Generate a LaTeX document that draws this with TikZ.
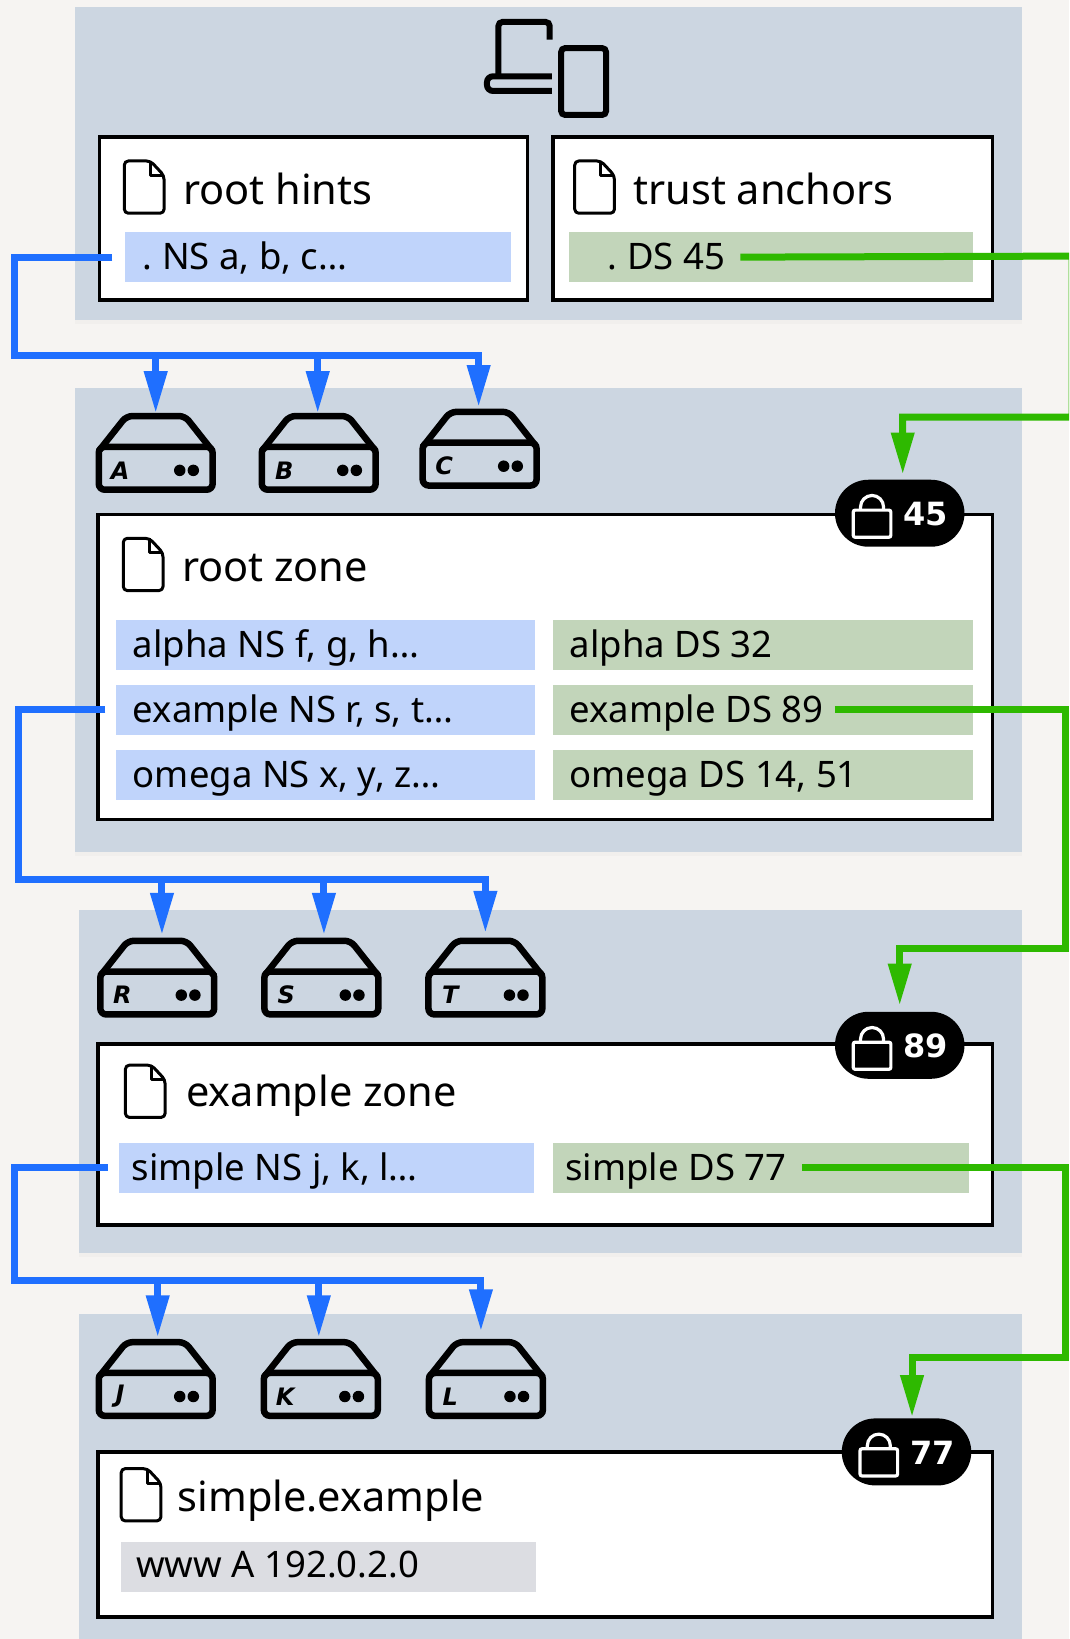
\documentclass[tikz,border=0pt]{standalone}
\usepackage{fontspec}
\usepackage{xcolor}
\usepackage{tikz}
\usetikzlibrary{positioning, calc, arrows.meta, shapes.misc, shadows}
\setmainfont{Noto Sans}
\newfontfamily\heavyfont{DejaVu Sans}

\definecolor{pagebg}{HTML}{F6F4F2}
\definecolor{panelbg}{HTML}{CCD6E1}
\definecolor{nsfill}{HTML}{C0D4FB}
\definecolor{dsfill}{HTML}{C2D5BA}
\definecolor{afill}{HTML}{DCDDE2}
\definecolor{nsline}{HTML}{1F6FFF}
\definecolor{dsline}{HTML}{2EB900}

\tikzset{
    panel/.style={fill=panelbg, drop shadow={shadow xshift=0pt, shadow yshift=-4pt, fill=black, opacity=.02}},
    zonebox/.style={draw=black, fill=white, line width=3.5pt},
    title/.style={anchor=base west, inner sep=0pt, font=\fontsize{41.5pt}{46pt}\selectfont},
    record/.style 2 args={anchor=west, inner xsep=#1, text width=#2, align=flush left, inner ysep=0pt,
        text height=37.5pt, text depth=12.5pt, font=\fontsize{36.5pt}{40pt}\selectfont\frenchspacing},
    nsrec/.style 2 args={record={#1}{#2}, fill=nsfill},
    dsrec/.style 2 args={record={#1}{#2}, fill=dsfill},
    arec/.style 2 args={record={#1}{#2}, fill=afill, text height=35.5pt, text depth=14.5pt},
    nswire/.style={draw=nsline, line width=7pt},
    dswire/.style={draw=dsline, line width=7pt},
    tipped/.style={-{Triangle[length=42pt,width=22pt]}},
    srvbox/.style={minimum width=119pt, minimum height=78.4pt, inner sep=0pt},
    srvtag/.style={inner sep=0pt, font=\heavyfont\fontsize{24pt}{28pt}\selectfont\bfseries\itshape},
    pill/.style={rounded rectangle, fill=black, minimum width=129.5pt, minimum height=67pt, inner sep=0pt},
    pillnum/.style={inner sep=0pt, text=white, font=\heavyfont\fontsize{32pt}{36pt}\selectfont\bfseries},
    fileicon/.pic={
        \draw[line width=3pt, line join=round, rounded corners=4pt] (-19,-25) -- (6,-25) -- (19,-11) -- (19,25) -- (-19,25) -- cycle;
        \draw[line width=3pt, line join=round] (6,-25) -- (6,-11) -- (19,-11);
    },
    server/.pic={
        \draw[line width=6.5pt, rounded corners=6pt] (-54.5,-6) rectangle (54.5,35);
        \draw[line width=6.5pt, rounded corners=6pt] (-54.5,-2) -- (-28,-35.5) -- (28,-35.5) -- (54.5,-2);
        \fill (23,16.5) circle (5.5);
        \fill (36,16.5) circle (5.5);
    },
    padlock/.pic={
        \draw[white, line width=3.2pt, rounded corners=2pt] (-18,-6) rectangle (18,20);
        \draw[white, line width=3.2pt] (-11,-6) -- (-11,-9) arc[start angle=180, end angle=360, radius=11] -- (11,-6);
    },
}

\begin{document}
\begin{tikzpicture}[x=1.045pt, y=-1.0453pt]
    \useasboundingbox (0,0) rectangle (1023,1568);
    \clip (0,0) rectangle (1023,1568);
    \fill[pagebg] (0,0) rectangle (1023,1568);

    \fill[panel] (72,7) rectangle (978,306);
    \fill[panel] (72,371) rectangle (978,815);
    \fill[panel] (76,871) rectangle (978,1199);
    \fill[panel] (76,1257) rectangle (978,1600);

    \draw[line width=6pt, rounded corners=4pt] (526,38) -- (526,21) -- (477,21) -- (477,74);
    \draw[line width=6pt, rounded corners=6pt] (528,73) -- (466,73) -- (466,87) -- (528,87);
    \draw[line width=6pt, rounded corners=4pt] (537,46) rectangle (580,110);

    \draw[zonebox] (95,131) rectangle (505,287);
    \draw[zonebox] (529,131) rectangle (950,287);
    \draw[zonebox] (94,492) rectangle (950,784);
    \draw[zonebox] (94,999) rectangle (950,1172);
    \draw[zonebox] (94,1389) rectangle (950,1547);

    \pic at (138,179) {fileicon};
    \pic at (569,179) {fileicon};
    \pic at (137,540) {fileicon};
    \pic at (139,1044) {fileicon};
    \pic at (135,1430) {fileicon};

    \node[title] (hints) at (175,196) {root hints};
    \node[title] (anchors) at (606,196) {trust anchors};
    \node[title] (rootzone) at (174,556) {root zone};
    \node[title] (examplezone) at (178,1059) {example zone};
    \node[title] (simplezone) at (170,1446) {simple.example};

    \node[nsrec={17.8pt}{350pt}] (hintsns) at (119.5,246) {. NS a, b, c…};
    \node[dsrec={38.7pt}{326pt}] (anchords) at (544.5,246) {. DS 45};
    \node[nsrec={16.7pt}{385.6pt}] (alphans) at (111,617) {alpha NS f, g, h…};
    \node[nsrec={16.7pt}{385.6pt}] (examplens) at (111,679) {example NS r, s, t…};
    \node[nsrec={16.7pt}{385.6pt}] (omegans) at (111,741) {omega NS x, y, z…};
    \node[dsrec={16.7pt}{386.6pt}] (alphads) at (529,617) {alpha DS 32};
    \node[dsrec={16.7pt}{386.6pt}] (exampleds) at (529,679) {example DS 89};
    \node[dsrec={16.7pt}{386.6pt}] (omegads) at (529,741) {omega DS 14, 51};
    \node[nsrec={12.5pt}{389.9pt}] (simplens) at (114,1117) {simple NS j, k, l…};
    \node[dsrec={12.5pt}{390.9pt}] (simpleds) at (529,1117) {simple DS 77};
    \node[arec={14.6pt}{385.7pt}] (wwwa) at (116,1499) {www A 192.0.2.0};

    \node[srvbox] (srva) at (149,433.5) {};
    \node[srvbox] (srvb) at (305,433.5) {};
    \node[srvbox] (srvc) at (459,429.5) {};
    \node[srvbox] (srvr) at (150.5,935.5) {};
    \node[srvbox] (srvs) at (307.5,935.5) {};
    \node[srvbox] (srvt) at (464.5,935.5) {};
    \node[srvbox] (srvj) at (149,1319.5) {};
    \node[srvbox] (srvk) at (307,1319.5) {};
    \node[srvbox] (srvl) at (465,1319.5) {};
    \foreach \srv in {a,b,c,r,s,t,j,k,l} {
        \pic at (srv\srv.center) {server};
    }
    \node[srvtag] (taga) at (115,450) {A};
    \node[srvtag] (tagb) at (272,450) {B};
    \node[srvtag] (tagc) at (425,446) {C};
    \node[srvtag] (tagr) at (117,952) {R};
    \node[srvtag] (tags) at (274,952) {S};
    \node[srvtag] (tagt) at (431,952) {T};
    \node[srvtag] (tagj) at (115,1336) {J};
    \node[srvtag] (tagk) at (273,1336) {K};
    \node[srvtag] (tagl) at (431,1336) {L};

    \node[pill] (pilla) at (861,491) {};
    \node[pill] (pillb) at (861,1000) {};
    \node[pill] (pillc) at (867.5,1389) {};
    \pic at (834.5,494) {padlock};
    \pic at (834.5,1003) {padlock};
    \pic at (841,1392) {padlock};
    \node[pillnum] (numa) at (886,492) {45};
    \node[pillnum] (numb) at (886,1001) {89};
    \node[pillnum] (numc) at (892.5,1390) {77};

    \coordinate (busa) at (14,340);
    \coordinate (busb) at (18,841);
    \coordinate (busc) at (14,1225);
    \draw[nswire, tipped] ([xshift=-12.5pt]hintsns.west) -- (busa |- hintsns.west) -- (busa) -| ([xshift=-1pt,yshift=2.5pt]srvc.north);
    \draw[nswire, tipped] (busa) -| ([yshift=0.5pt]srva.north);
    \draw[nswire, tipped] (busa) -| ([xshift=-1pt,yshift=0.5pt]srvb.north);
    \draw[nswire, tipped] ([xshift=-10.5pt]examplens.west) -- (busb |- examplens.west) -- (busb) -| ([yshift=5.5pt]srvt.north);
    \draw[nswire, tipped] (busb) -| ([xshift=4.7pt,yshift=3.5pt]srvr.north);
    \draw[nswire, tipped] (busb) -| ([xshift=2.6pt,yshift=3.5pt]srvs.north);
    \draw[nswire, tipped] ([xshift=-11.5pt]simplens.west) -- (busc |- simplens.west) -- (busc) -| ([xshift=-5pt,yshift=8.5pt]srvl.north);
    \draw[nswire, tipped] (busc) -| ([xshift=2pt,yshift=2.5pt]srvj.north);
    \draw[nswire, tipped] (busc) -| ([xshift=-2pt,yshift=2.5pt]srvk.north);

    \draw[dswire, tipped] ([xshift=171.4pt]anchords.west) -- (1026,245) -- (1026,399) -| ([xshift=3pt,yshift=5pt]pilla.north);
    \draw[dswire, tipped] ([xshift=282pt]exampleds.west) -- (1020,679) -- (1020,907) -| ([yshift=6pt]pillb.north);
    \draw[dswire, tipped] ([xshift=249pt]simpleds.west) -- (1020,1117) -- (1020,1299) -| ([xshift=5.5pt,yshift=1pt]pillc.north);
\end{tikzpicture}
\end{document}
